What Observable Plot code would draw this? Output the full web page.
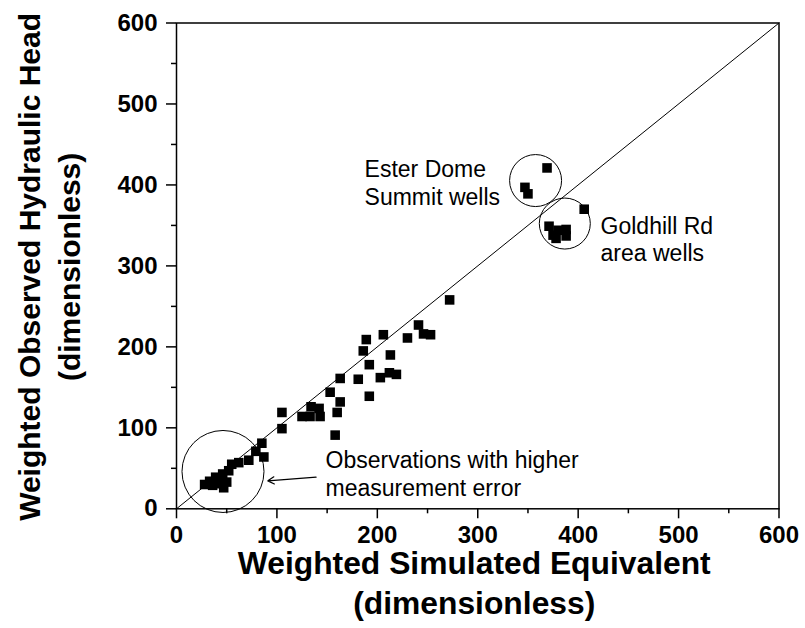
<!DOCTYPE html>
<html><head><meta charset="utf-8">
<script src="https://cdn.jsdelivr.net/npm/d3@7"></script>
<script src="https://cdn.jsdelivr.net/npm/@observablehq/plot@0.6"></script>
<style>body{margin:0;background:#fff}</style>
</head><body><div id="chart"></div>
<script>
// Weighted simulated equivalent (x) and weighted observed hydraulic head (y)
const simulated = [
  28, 33, 36, 40, 44, 47, 50, 39, 46, 52, 55, 62, 72, 79, 87, 85, 105, 105,
  125, 133, 143, 134, 142, 153, 158, 160, 163, 163, 181, 186, 189, 192, 192, 203, 206, 212, 213, 219, 230, 241, 246, 253, 272,
  347, 350, 369, 371, 375, 378, 380, 388, 388, 406
];
const observed = [
  30, 34, 29, 31, 33, 26, 33, 39, 43, 47, 55, 57, 60, 71, 64, 81, 99, 119,
  114, 114, 114, 126, 124, 144, 91, 119, 132, 161, 160, 195, 209, 178, 139, 162, 215, 168, 190, 166, 211, 227, 216, 215, 258,
  397, 389, 421, 349, 338, 334, 344, 345, 337, 370
];
const majorTicks = [0, 100, 200, 300, 400, 500, 600];
const minorTicks = [50, 150, 250, 350, 450, 550];
const oneToOne = [0, 600];
const xTitle = ["Weighted Simulated Equivalent", "(dimensionless)"];
const yTitle = ["Weighted Observed Hydraulic Head", "(dimensionless)"];
const esterText = ["Ester Dome", "Summit wells"];
const goldhillText = ["Goldhill Rd", "area wells"];
const errorText = ["Observations with higher", "measurement error"];

const points = simulated.map((x, i) => ({x, y: observed[i]}));
const font = "'Liberation Sans', Arial, Helvetica, sans-serif";

const fig = Plot.plot({
  width: 805,
  height: 628,
  marginLeft: 176,
  marginRight: 26.5,
  marginTop: 22.5,
  marginBottom: 119.7,
  style: {fontFamily: font, background: "white", color: "black", overflow: "visible"},
  x: {domain: [0, 600]},
  y: {domain: [0, 600]},
  marks: [
    Plot.frame({stroke: "black", strokeWidth: 1.5}),
    Plot.axisX({ticks: majorTicks, tickSize: 10, tickPadding: 7, fontSize: 24, fontWeight: "bold", label: null, strokeWidth: 1.5}),
    Plot.axisX({ticks: minorTicks, tickSize: 5, text: null, label: null, strokeWidth: 1.5}),
    Plot.axisY({ticks: majorTicks, tickSize: 10, tickPadding: 9, fontSize: 24, fontWeight: "bold", label: null, strokeWidth: 1.5}),
    Plot.axisY({ticks: minorTicks, tickSize: 5, text: null, label: null, strokeWidth: 1.5}),
    Plot.line(oneToOne, {x: d => d, y: d => d, stroke: "black", strokeWidth: 1}),
    Plot.dot([0], {x: 357.6, y: 405.4, r: 26, stroke: "black", fill: "none", strokeWidth: 1}),
    Plot.dot([0], {x: 386.7, y: 352.3, r: 25.5, stroke: "black", fill: "none", strokeWidth: 1}),
    Plot.dot([0], {x: 46.3, y: 46.1, r: 41, stroke: "black", fill: "none", strokeWidth: 1}),
    Plot.dot(points, {x: "x", y: "y", symbol: "square", r: 5.4, fill: "black", stroke: "none"}),
    Plot.arrow([0], {x1: 139, y1: 39, x2: 91, y2: 34.5, stroke: "black", strokeWidth: 1.2, headLength: 9, bend: 0}),
    Plot.text([esterText[0]], {x: 187.3, y: 409.9, text: d => d, textAnchor: "start", lineAnchor: "bottom", fontSize: 23}),
    Plot.text([esterText[1]], {x: 187.3, y: 375.8, text: d => d, textAnchor: "start", lineAnchor: "bottom", fontSize: 23}),
    Plot.text([goldhillText[0]], {x: 422.3, y: 339.9, text: d => d, textAnchor: "start", lineAnchor: "bottom", fontSize: 23}),
    Plot.text([goldhillText[1]], {x: 422.3, y: 306.1, text: d => d, textAnchor: "start", lineAnchor: "bottom", fontSize: 23}),
    Plot.text([errorText[0]], {x: 148.4, y: 49.8, text: d => d, textAnchor: "start", lineAnchor: "bottom", fontSize: 23}),
    Plot.text([errorText[1]], {x: 148.4, y: 16.4, text: d => d, textAnchor: "start", lineAnchor: "bottom", fontSize: 23})
  ]
});

// axis titles (two lines each), placed from the plot's scales
const sx = fig.scale("x"), sy = fig.scale("y");
const svg = d3.select(fig);
const cx = (sx.apply(0) + sx.apply(600)) / 2;
const cy = (sy.apply(0) + sy.apply(600)) / 2;
const base = sy.apply(0);
svg.append("g")
  .attr("font-family", font).attr("font-size", 31.8).attr("font-weight", "bold").attr("text-anchor", "middle")
  .selectAll("text").data(xTitle).join("text")
  .attr("x", cx - 3).attr("y", (d, i) => base + 66 + i * 40).text(d => d);
svg.append("g")
  .attr("font-family", font).attr("font-size", 30).attr("font-weight", "bold").attr("text-anchor", "middle")
  .selectAll("text").data(yTitle).join("text")
  .attr("transform", (d, i) => `translate(${40 + i * 40},${cy + 1.5}) rotate(-90)`).text(d => d);

document.getElementById("chart").append(fig);
</script>
</body></html>
